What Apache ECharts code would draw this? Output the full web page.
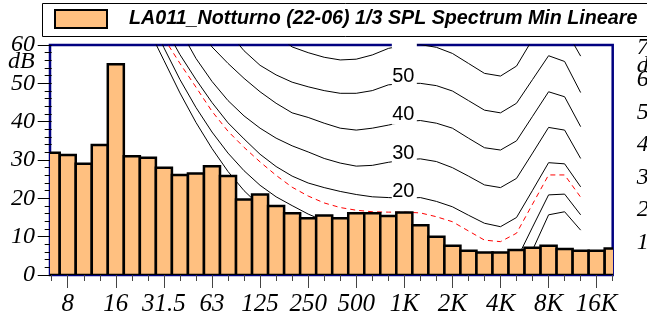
<!DOCTYPE html>
<html><head><meta charset="utf-8">
<script src="https://cdn.jsdelivr.net/npm/echarts@6/dist/echarts.min.js"></script>
<style>html,body{margin:0;padding:0;background:#fff}#c{width:647px;height:322px}</style>
</head><body><div id="c"></div>
<script>
// 1/3 octave bands
const bands = ['6.3','8','10','12.5','16','20','25','31.5','40','50','63','80','100','125','160','200','250','315','400','500','630','800','1K','1.25K','1.6K','2K','2.5K','3.15K','4K','5K','6.3K','8K','10K','12.5K','16K','20K'];
const tickLabels = ['8','16','31.5','63','125','250','500','1K','2K','4K','8K','16K'];
const seriesName = 'LA011_Notturno (22-06) 1/3 SPL Spectrum Min Lineare';
// spectrum (dB)
const spectrum = [31.9,31.3,29.0,33.9,55.0,31.0,30.6,28.0,26.1,26.5,28.4,25.8,19.7,21.0,18.0,16.1,14.8,15.5,14.8,16.1,16.1,15.4,16.3,13.0,10.0,7.6,6.3,5.9,5.9,6.5,7.1,7.6,6.8,6.3,6.3,6.9];
// isophone-like curves (dB), per band
const curve60 = [null,null,null,null,null,null,null,null,null,null,null,null,null,66,62.7,59.5,58.0,56.8,56.1,56.3,57.4,59.1,60,60.1,59.4,57.8,55.2,52.6,51.9,54.5,61.5,67,64.4,57.1,null,null];
const curve50 = [null,null,null,null,null,null,null,null,null,null,69,63.5,58.5,54.7,52.2,50.3,49.1,48.1,47.4,47.4,48.1,49.6,50,50,49.4,48.0,45.5,43.0,42.3,44.8,51.0,57.2,55.7,47.6,null,null];
const curve40 = [null,null,null,null,null,null,null,null,null,65.5,59.5,55.2,51.3,47.8,44.8,42.3,41.1,39.6,38.3,37.8,38.3,39.1,40,40.3,39.6,38.3,35.7,33.2,32.6,35.0,41.4,47.8,46.5,38.7,null,null];
const curve30 = [null,null,null,null,null,null,null,null,64,56.5,50.5,45.5,41.5,38.3,35.7,33.7,32.1,30.4,29.2,28.4,28.6,29.4,30,30.3,29.6,28.0,25.8,23.5,22.8,25.2,31.8,38.5,37.8,30.4,null,null];
const curve20 = [null,null,null,null,null,null,null,65,57.5,51,45,39.7,35.5,31.5,28.3,25.8,24,22.8,21.8,21,20.4,20.2,20,20.2,19.2,17.8,15.6,13.5,12.6,15.0,22.1,29.3,29.0,23.0,null,null];
const curveRed = [null,null,null,null,null,null,null,61.8,55.2,49,42.7,37.5,33.3,29.5,26,22.9,20.6,18.8,17.6,16.9,16.5,16.4,16.4,16.2,15.2,13.9,11.5,9.1,8.7,10.9,18.5,26.1,26.1,20.3,null,null];
const curve10 = [null,null,null,null,null,null,68,59.3,51,43.7,37.3,31.8,27.2,23.4,20.4,18.1,15.9,14.1,12.7,11.7,11,10.5,10.2,10,8.5,6.5,4.5,2.5,2,4,12.5,20.9,21.1,15.7,null,null];
const curve0 = [null,null,null,null,null,null,64.5,56,47.5,39.8,33,27,22,18,14.8,12.3,10,8,6.5,5.3,4.5,4,3.8,3.8,3,1.5,-0.5,-2.5,-3,-1.5,6.5,15.7,16.5,11.7,null,null];
const curveLabels = ['60','50','40','30','20'];
const labelBand = '1K';

const toPairs = arr => arr.map((v, i) => v == null ? null : [i, v]).filter(Boolean);
const tickIdx = tickLabels.map(t => bands.indexOf(t));
const serif = "Liberation Serif";
const sans = "Liberation Sans";
const axisFont = {fontFamily: serif, fontStyle: 'italic', fontWeight: 'normal', fontSize: 24, color: '#000'};
const richAxis = {t: Object.assign({}, axisFont)};
const richX = {t: Object.assign({}, axisFont, {fontSize: 25})};

const blackCurves = [curve60, curve50, curve40, curve30, curve20, curve10, curve0];
const lineSeries = blackCurves.map(c => ({
  type: 'line', data: toPairs(c), symbol: 'none', silent: true, z: 2,
  lineStyle: {color: '#000', width: 1}, clip: true
}));
lineSeries.push({
  type: 'line', data: toPairs(curveRed), symbol: 'none', silent: true, z: 2,
  lineStyle: {color: '#ff0000', width: 1, type: [5, 4]}, clip: true
});

const li = bands.indexOf(labelBand);
const labelData = curveLabels.map(t => [li, Number(t)]);

const chart = echarts.init(document.getElementById('c'), null, {renderer: 'canvas'});
chart.setOption({
  animation: false,
  backgroundColor: '#fff',
  textStyle: {fontFamily: serif, fontStyle: 'italic'},
  grid: {left: 50, right: 34.3, top: 45, bottom: 47, show: true, containLabel: false, outerBoundsMode: 'none',
    borderColor: '#000080', borderWidth: 2.5, backgroundColor: 'transparent'},
  legend: {
    left: 42, top: 4, padding: [5, 0, 9, 12],
    borderWidth: 0,
    itemWidth: 52, itemHeight: 18,
    data: [{name: seriesName, icon: 'rect', itemStyle: {color: '#FFC080', borderColor: '#000', borderWidth: 2}}],
    textStyle: {fontFamily: sans, fontSize: 19.7, fontWeight: 'bold', fontStyle: 'italic', color: '#000', padding: [0, 0, 0, 17]}
  },
  xAxis: [{
    type: 'value', min: -0.106, max: 35, position: 'bottom',
    axisLine: {show: false}, splitLine: {show: false},
    axisTick: {show: true, customValues: bands.map((_, i) => i), length: 6, lineStyle: {color: '#444'}},
    axisLabel: {show: false}
  }, {
    type: 'value', min: -0.106, max: 35, position: 'bottom',
    axisLine: {show: false}, splitLine: {show: false},
    axisTick: {show: true, customValues: tickIdx, length: 13, lineStyle: {color: '#444'}},
    axisLabel: {customValues: tickIdx, margin: 17, rich: richX, hideOverlap: false,
      formatter: v => '{t|' + bands[Math.round(v)] + '}'}
  }],
  yAxis: [{
    type: 'value', min: 0, max: 60, interval: 10, position: 'left',
    name: 'dB', nameLocation: 'end', nameGap: -5, nameMoveOverlap: false,
    nameTextStyle: Object.assign({}, axisFont, {align: 'right', verticalAlign: 'top', padding: [0, 17, 0, 0]}),
    axisLine: {show: false}, splitLine: {show: false},
    axisTick: {show: true, length: 14, lineStyle: {color: '#000'}},
    minorTick: {show: true, splitNumber: 5, length: 7, lineStyle: {color: '#000'}},
    axisLabel: {margin: 15, rich: richAxis, hideOverlap: false, formatter: v => '{t|' + v + '}'}
  }, {
    type: 'value', min: 0, max: 70.8, interval: 10, position: 'right',
    axisLine: {show: false}, splitLine: {show: false}, axisTick: {show: false},
    axisLabel: {margin: 24, hideOverlap: false, rich: richAxis, align: 'left',
      formatter: v => (v > 0 && Math.abs(v % 10) < 1e-6) ? '{t|' + v + '}' : ''}
  }],
  series: lineSeries.concat([{
    type: 'custom', silent: true, z: 3, clip: false,
    data: labelData,
    renderItem: (params, api) => {
      const p = api.coord([api.value(0), api.value(1)]);
      const cs = params.coordSys;
      const txt = curveLabels[params.dataIndex];
      const bg = echarts.graphic.clipRectByRect(
        {x: p[0] - 12.5, y: p[1] - 18, width: 25, height: 21},
        {x: cs.x, y: cs.y - 2, width: cs.width, height: cs.height + 2});
      const children = [];
      if (bg) children.push({type: 'rect', shape: bg, style: {fill: '#fff'}});
      if (p[1] - 16 >= cs.y) children.push({type: 'text', style: {text: txt, x: p[0] - 1, y: p[1] - 7, align: 'center', verticalAlign: 'middle', fill: '#000', font: 'normal 20px "' + sans + '"'}});
      return {type: 'group', children};
    }
  }, {
    type: 'custom', name: seriesName, z: 5, clip: true,
    itemStyle: {color: '#FFC080', borderColor: '#000', borderWidth: 2},
    data: spectrum.map((v, i) => [i, v]),
    renderItem: (params, api) => {
      const i = api.value(0), v = api.value(1);
      const a = api.coord([i - 0.5, v]);
      const b = api.coord([i + 0.5, 0]);
      return {type: 'rect', shape: {x: a[0], y: a[1], width: b[0] - a[0], height: b[1] - a[1]},
        style: {fill: '#FFC080', stroke: '#000', lineWidth: 2.5}};
    }
  }])
});
// right-axis unit label and legend frame, placed from the chart layout
const rx = chart.convertToPixel({xAxisIndex: 0}, bands.length - 1);
const ry = chart.convertToPixel({yAxisIndex: 1}, 70);
chart.setOption({graphic: [
  {type: 'text', x: rx + 24, y: ry + 6, style: {text: 'dB', font: 'italic 24px "' + serif + '"', fill: '#000', verticalAlign: 'top'}},
  {type: 'rect', shape: {x: 42.5, y: 3.5, width: 700, height: 33}, style: {fill: 'none', stroke: '#000', lineWidth: 1}, silent: true}
]});
</script></body></html>
